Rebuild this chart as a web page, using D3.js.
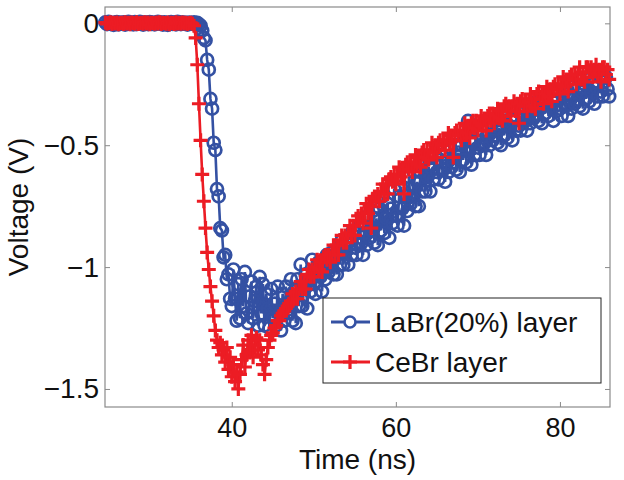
<!DOCTYPE html>
<html>
<head>
<meta charset="utf-8">
<script src="https://cdn.jsdelivr.net/npm/d3@7"></script>
<style>
  body { margin: 0; background: #fff; }
  text { font-family: "Liberation Sans", Arial, Helvetica, sans-serif; fill: #111; }
</style>
</head>
<body>
<svg id="chart" width="624" height="480"></svg>
<script>
// sampling grid of the scope traces (ns)
const sampleStart = 24.6, sampleStep = 0.2;

// LaBr(20%) layer trace (V), one value per sample
const labrVolts = [
  0.004, -0.003, 0.006, -0.002, 0.001, -0.006, 0.003, 0.005, -0.004, 0.002,
  -0.001, 0.004, -0.005, 0.003, 0.006, -0.002, 0.001, -0.004, 0.005, -0.003,
  0.002, 0.006, -0.001, -0.005, 0.004, 0.001, -0.003, 0.005, -0.002, 0.003,
  -0.004, 0.002, 0.006, -0.001, 0.003, -0.005, 0.004, 0.001, -0.006, 0.002,
  0.005, -0.002, 0.003, -0.004, 0.006, 0.001, -0.003, 0.004, -0.001, 0.002,
  -0.005, 0.003, 0.001, -0.002, 0.004, -0.003, 0.002, -0.004,
  // fall
  -0.01, -0.03, -0.06, -0.07, -0.15, -0.19, -0.31, -0.35, -0.49, -0.52,
  -0.68, -0.71, -0.84, -0.85, -0.96, -0.95, -1.05, -1.03, -1.13,
  // minimum
  -1.16, -1.01, -1.13, -1.22, -1.07, -1.21, -1.05, -1.16, -1.02, -1.19,
  -1.23, -1.12, -1.06, -1.21, -1.14, -1.08, -1.24, -1.04, -1.19, -1.07,
  -1.24, -1.11, -1.17, -1.25, -1.09, -1.21, -1.15, -1.24, -1.08, -1.19,
  -1.26, -1.11, -1.22, -1.08, -1.19,
  // recovery
  -1.16, -1.05, -1.22, -1.10, -1.23, -1.05, -1.16, -0.99, -1.16, -1.09,
  -1.03, -1.17, -1.05, -1.10, -0.97, -1.07, -1.11, -1.00, -0.98, -1.04,
  -1.10, -1.01, -1.05, -0.95, -1.02, -1.00, -0.94, -1.03, -0.96, -1.03,
  -0.93, -0.99, -0.89, -0.99, -0.94, -0.90, -0.99, -0.91, -0.95, -0.85,
  -0.92, -0.95, -0.86, -0.83, -0.90, -0.95, -0.86, -0.91, -0.79, -0.88,
  -0.85, -0.77, -0.90, -0.80, -0.91, -0.76, -0.85, -0.71, -0.86, -0.80,
  -0.74, -0.88, -0.76, -0.82, -0.68, -0.79, -0.83, -0.71, -0.67, -0.76,
  -0.83, -0.71, -0.77, -0.63, -0.74, -0.71, -0.61, -0.75, -0.65, -0.75,
  -0.61, -0.69, -0.56, -0.69, -0.63, -0.59, -0.69, -0.60, -0.64, -0.54,
  -0.61, -0.64, -0.56, -0.54, -0.60, -0.65, -0.57, -0.61, -0.51, -0.59,
  -0.57, -0.50, -0.60, -0.53, -0.61, -0.50, -0.56, -0.46, -0.57, -0.40,
  -0.48, -0.58, -0.49, -0.54, -0.44, -0.51, -0.54, -0.46, -0.44, -0.49,
  -0.54, -0.46, -0.50, -0.41, -0.48, -0.46, -0.40, -0.49, -0.43, -0.50,
  -0.40, -0.46, -0.37, -0.47, -0.42, -0.39, -0.48, -0.40, -0.44, -0.35,
  -0.42, -0.44, -0.37, -0.35, -0.40, -0.44, -0.38, -0.41, -0.33, -0.39,
  -0.38, -0.32, -0.40, -0.35, -0.41, -0.32, -0.37, -0.29, -0.38, -0.34,
  -0.31, -0.40, -0.32, -0.36, -0.28, -0.35, -0.38, -0.30, -0.28, -0.33,
  -0.38, -0.31, -0.35, -0.26, -0.33, -0.32, -0.26, -0.34, -0.28, -0.35,
  -0.25, -0.31, -0.23, -0.32, -0.28, -0.25, -0.33, -0.26, -0.30, -0.22,
  -0.28, -0.30, -0.24, -0.22, -0.27, -0.30
];

// CeBr layer trace (V), one value per sample
const cebrVolts = [
  0.003, -0.002, 0.001, 0.004, -0.003, 0.002, -0.001, 0.003, -0.004, 0.001,
  0.002, -0.003, 0.004, -0.001, 0.002, -0.004, 0.003, 0.001, -0.002, 0.004,
  -0.003, 0.001, 0.002, -0.002, 0.004, -0.001, 0.003, -0.004, 0.002, 0.001,
  -0.002, 0.003, -0.001, 0.004, -0.003, 0.002, 0.001, -0.002, 0.003, -0.004,
  0.002, 0.001, -0.003, 0.004, -0.001, 0.002, -0.002, 0.003, -0.001, 0.002,
  -0.003, 0.001, 0.002, -0.002,
  // fall
  -0.01, -0.06, -0.17, -0.33, -0.48, -0.62, -0.73, -0.84, -0.94, -1.01,
  -1.08, -1.14, -1.20, -1.26, -1.30,
  // minimum
  -1.33, -1.31, -1.36, -1.34, -1.39, -1.33, -1.42, -1.37, -1.45, -1.40,
  -1.47, -1.43, -1.50, -1.44, -1.38, -1.32, -1.41, -1.36, -1.30, -1.35,
  -1.28, -1.37, -1.32, -1.29, -1.34, -1.30, -1.36, -1.40, -1.44, -1.38,
  -1.33, -1.30, -1.28, -1.27, -1.25, -1.24, -1.22, -1.22, -1.20, -1.19,
  -1.18, -1.17, -1.16, -1.15, -1.14,
  // recovery
  -1.11, -1.13, -1.10, -1.13, -1.09, -1.06, -1.09, -1.06, -1.09, -1.03,
  -1.01, -1.04, -1.01, -1.04, -1.00, -0.97, -1.01, -0.98, -1.02, -0.96,
  -0.95, -0.97, -0.95, -0.98, -0.94, -0.91, -0.95, -0.91, -0.95, -0.89,
  -0.87, -0.90, -0.87, -0.90, -0.86, -0.83, -0.87, -0.83, -0.87, -0.81,
  -0.79, -0.81, -0.78, -0.82, -0.78, -0.74, -0.78, -0.75, -0.84, -0.72,
  -0.71, -0.73, -0.70, -0.73, -0.69, -0.66, -0.70, -0.66, -0.70, -0.64,
  -0.63, -0.65, -0.62, -0.66, -0.62, -0.59, -0.63, -0.60, -0.70, -0.58,
  -0.57, -0.60, -0.57, -0.61, -0.57, -0.54, -0.58, -0.55, -0.59, -0.53,
  -0.52, -0.55, -0.52, -0.56, -0.52, -0.49, -0.53, -0.50, -0.55, -0.49,
  -0.48, -0.50, -0.48, -0.52, -0.48, -0.45, -0.49, -0.46, -0.55, -0.45,
  -0.44, -0.46, -0.44, -0.48, -0.44, -0.41, -0.45, -0.42, -0.47, -0.41,
  -0.40, -0.43, -0.40, -0.44, -0.41, -0.38, -0.42, -0.39, -0.44, -0.38,
  -0.37, -0.40, -0.37, -0.41, -0.38, -0.35, -0.39, -0.36, -0.40, -0.34,
  -0.33, -0.36, -0.34, -0.38, -0.34, -0.32, -0.36, -0.33, -0.41, -0.32,
  -0.31, -0.34, -0.32, -0.36, -0.32, -0.29, -0.34, -0.31, -0.35, -0.29,
  -0.28, -0.31, -0.29, -0.33, -0.29, -0.26, -0.30, -0.27, -0.32, -0.26,
  -0.25, -0.27, -0.25, -0.29, -0.25, -0.22, -0.26, -0.23, -0.28, -0.22,
  -0.21, -0.23, -0.21, -0.25, -0.21, -0.18, -0.23, -0.20, -0.24, -0.18,
  -0.18, -0.20, -0.18, -0.22, -0.19, -0.17, -0.21, -0.19, -0.24, -0.18,
  -0.18, -0.21, -0.19, -0.23
];

const seriesNames = ["LaBr(20%) layer", "CeBr layer"];
const seriesColors = ["#3451a3", "#ec1c24"];
const xTicks = [40, 60, 80];
const yTicks = [0, -0.5, -1, -1.5];

const margin = {top: 7, right: 14, bottom: 73, left: 105};
const width = 624 - margin.left - margin.right,
      height = 480 - margin.top - margin.bottom;

const svg = d3.select("#chart");
const g = svg.append("g")
  .attr("transform", "translate(" + margin.left + "," + margin.top + ")");

const x = d3.scaleLinear().domain([24.55, 86.1]).range([0, width]);
const y = d3.scaleLinear().domain([-1.574, 0.067]).range([height, 0]);

function toPoints(volts) {
  return volts.map(function (v, i) {
    return {t: sampleStart + i * sampleStep, v: v};
  });
}
const labr = toPoints(labrVolts);
const cebr = toPoints(cebrVolts);

const line = d3.line()
  .x(function (d) { return x(d.t); })
  .y(function (d) { return y(d.v); });

const fmt = d3.format("~g");
const axisColor = "#8a8a8a";
const tick = 5;

// axes with inward ticks on all four sides
const axB = g.append("g").attr("transform", "translate(0," + height + ")")
  .call(d3.axisBottom(x).tickValues(xTicks).tickSizeInner(-tick).tickSizeOuter(0).tickPadding(11).tickFormat(fmt));
const axT = g.append("g")
  .call(d3.axisTop(x).tickValues(xTicks).tickSizeInner(-tick).tickSizeOuter(0).tickFormat(""));
const axL = g.append("g")
  .call(d3.axisLeft(y).tickValues(yTicks).tickSizeInner(-tick).tickSizeOuter(0).tickPadding(6).tickFormat(fmt));
const axR = g.append("g").attr("transform", "translate(" + width + ",0)")
  .call(d3.axisRight(y).tickValues(yTicks).tickSizeInner(-tick).tickSizeOuter(0).tickFormat(""));

[axB, axT, axL, axR].forEach(function (a) {
  a.select(".domain").remove();
  a.selectAll(".tick line").attr("stroke", axisColor);
  a.selectAll("text").attr("font-size", 28).attr("fill", "#111")
    .attr("font-family", "Liberation Sans, Arial, Helvetica, sans-serif");
});
axB.selectAll("text").attr("font-size", 27);

g.append("rect")
  .attr("width", width).attr("height", height)
  .attr("fill", "none").attr("stroke", axisColor).attr("stroke-width", 1.2);

// LaBr trace: line + open circles
g.append("path").datum(labr)
  .attr("fill", "none").attr("stroke", seriesColors[0]).attr("stroke-width", 2.6)
  .attr("d", line);
g.append("g").selectAll("circle").data(labr).join("circle")
  .attr("cx", function (d) { return x(d.t); })
  .attr("cy", function (d) { return y(d.v); })
  .attr("r", 6)
  .attr("fill", "none").attr("stroke", seriesColors[0]).attr("stroke-width", 2.7);

// CeBr trace: line + plus markers
const plus = "M-7,0H7M0,-7V7";
g.append("path").datum(cebr)
  .attr("fill", "none").attr("stroke", seriesColors[1]).attr("stroke-width", 2.6)
  .attr("d", line);
g.append("g").selectAll("path").data(cebr).join("path")
  .attr("transform", function (d) { return "translate(" + x(d.t) + "," + y(d.v) + ")"; })
  .attr("d", plus)
  .attr("fill", "none").attr("stroke", seriesColors[1]).attr("stroke-width", 3.2);

// axis labels
svg.append("text")
  .attr("x", margin.left + width / 2).attr("y", 469)
  .attr("text-anchor", "middle").attr("font-size", 28)
  .text("Time (ns)");
svg.append("text")
  .attr("transform", "translate(28," + (margin.top + height / 2) + ") rotate(-90)")
  .attr("text-anchor", "middle").attr("font-size", 28)
  .text("Voltage (V)");

// legend
const leg = svg.append("g").attr("transform", "translate(323,298)");
leg.append("rect").attr("width", 278).attr("height", 85)
  .attr("fill", "#fff").attr("stroke", "#222").attr("stroke-width", 1);
seriesNames.forEach(function (name, i) {
  const ly = 24 + i * 40;
  leg.append("line").attr("x1", 8).attr("x2", 47).attr("y1", ly).attr("y2", ly)
    .attr("stroke", seriesColors[i]).attr("stroke-width", 2.8);
  if (i === 0) {
    leg.append("circle").attr("cx", 27).attr("cy", ly).attr("r", 5.5)
      .attr("fill", "#fff").attr("stroke", seriesColors[i]).attr("stroke-width", 2.6);
  } else {
    leg.append("path").attr("transform", "translate(27," + ly + ")").attr("d", plus)
      .attr("stroke", seriesColors[i]).attr("stroke-width", 3.2);
  }
  leg.append("text").attr("x", 52).attr("y", ly + 10).attr("font-size", 28).text(name);
});
</script>
</body>
</html>
